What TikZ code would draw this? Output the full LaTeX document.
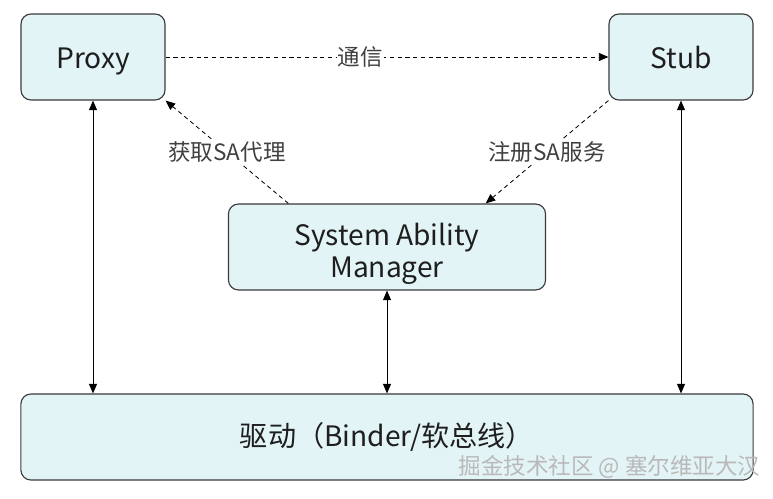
\documentclass[tikz,border=0pt]{standalone}
\usepackage{fontspec}
\setmainfont{Noto Sans CJK SC}
\usetikzlibrary{arrows.meta,calc}

\definecolor{boxfill}{HTML}{E3F4F6}
\definecolor{boxline}{HTML}{3A3A3A}
\definecolor{txt}{HTML}{1E1E1E}

\begin{document}
\begin{tikzpicture}[x=0.025cm,y=-0.025cm,
  box/.style={draw=boxline,fill=boxfill,rounded corners=0.25cm,line width=0.8pt,
    text=txt,font=\fontsize{20}{23}\selectfont,align=center,inner sep=0pt},
  small box/.style={box,minimum width=3.6cm,minimum height=2.15cm,text height=16pt,text depth=0pt},
  link/.style={{Triangle[length=2.4mm,width=2mm]}-{Triangle[length=2.4mm,width=2mm]},line width=0.6pt},
  call/.style={-{Triangle[length=2.4mm,width=2mm]},dash pattern=on 3pt off 2.5pt,line width=0.6pt},
  lbl/.style={fill=white,inner sep=1pt,text=txt!85,font=\fontsize{16}{19}\selectfont}]

\useasboundingbox (0,0) rectangle (773,498);

% Boites
\node[small box] (proxy) at (93,57) {Proxy};
\node[small box] (stub) at (681,57) {Stub};
\node[box,minimum width=7.925cm,minimum height=2.15cm] (sam) at (387,247) {\rule{0pt}{26pt}System Ability\\Manager};
\node[box,minimum width=18.3cm,minimum height=2.15cm] (drv) at (387,437) {驱动（Binder/软总线）};

% Liens vers le driver
\draw[link] (proxy.south) -- (proxy.south |- drv.north);
\draw[link] (sam.south) -- (sam.south |- drv.north);
\draw[link] (stub.south) -- (stub.south |- drv.north);

% Appels
\draw[call] (proxy.east) -- node[lbl,pos=0.44] {通信} (stub.west);
\draw[call] ($(sam.north west)!0.19!(sam.north east)$) -- node[lbl] {获取SA代理} (proxy.south east);
\draw[call] (stub.south west) -- node[lbl] {注册SA服务} ($(sam.north west)!0.81!(sam.north east)$);

% Filigrane
\node[text=gray!55,font=\fontsize{16}{19}\selectfont,anchor=east] (mark) at (765,467) {掘金技术社区 @ 塞尔维亚大汉};

\end{tikzpicture}
\end{document}
